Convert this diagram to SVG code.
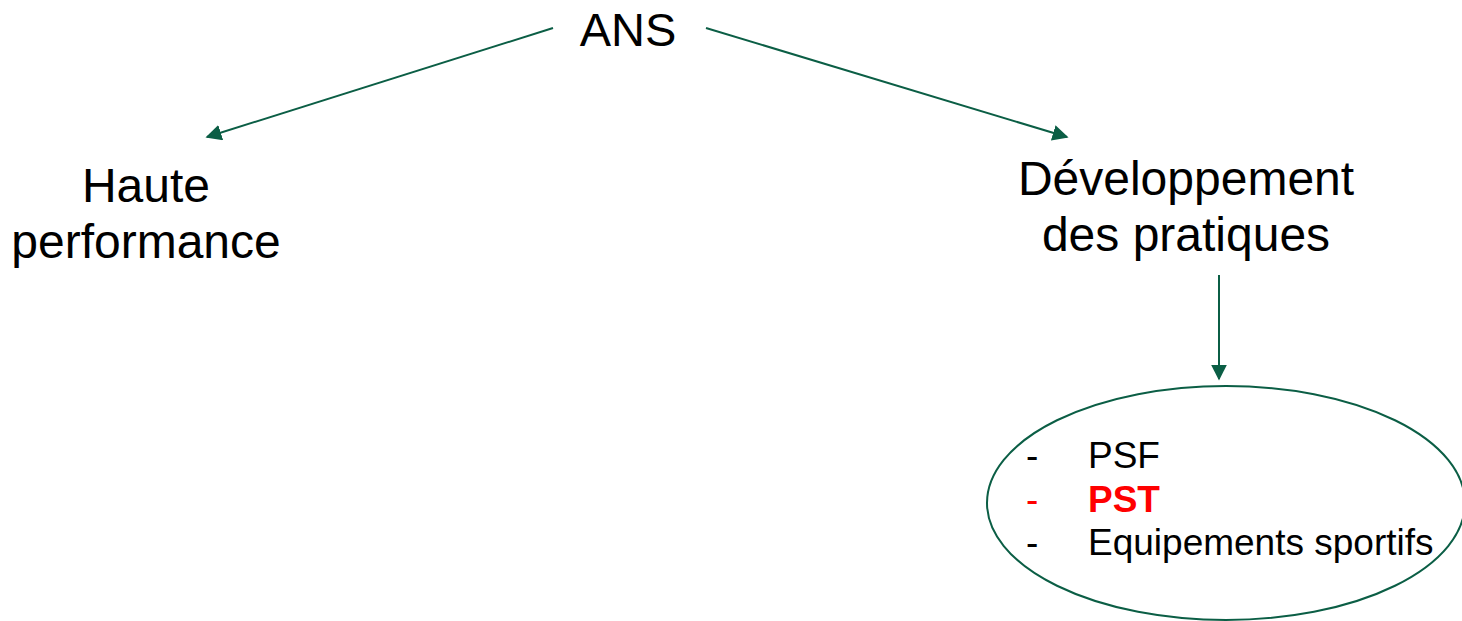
<svg xmlns="http://www.w3.org/2000/svg" width="1462" height="621" viewBox="0 0 1462 621">
<style>
text{font-family:"Liberation Sans",Arial,sans-serif;fill:#000}
.big{font-size:48px}
.ans{font-size:47px}
.item{font-size:37px}
.conn{stroke:#0B5E45;stroke-width:2;fill:none}
.red{fill:#FF0000}
</style>
<defs>
<marker id="ah2" viewBox="0 0 10 10" refX="9" refY="5" markerWidth="16" markerHeight="16" markerUnits="userSpaceOnUse" orient="auto"><path d="M0,0 L10,5 L0,10 z" fill="#0B5E45"/></marker>
</defs>
<rect width="1462" height="621" fill="#fff"/>
<g id="connectors">
<line class="conn" x1="553" y1="28" x2="207" y2="137" marker-end="url(#ah2)"/>
<line class="conn" x1="706" y1="28" x2="1067" y2="137" marker-end="url(#ah2)"/>
<line class="conn" x1="1219" y1="275" x2="1219" y2="379" marker-end="url(#ah2)"/>
</g>
<g id="ans"><text class="ans" x="628" y="46" text-anchor="middle">ANS</text></g>
<g id="haute"><text class="big" text-anchor="middle"><tspan x="146" y="202">Haute</tspan><tspan x="146" y="258">performance</tspan></text></g>
<g id="dev"><text class="big" text-anchor="middle"><tspan x="1186" y="195">Développement</tspan><tspan x="1186" y="251">des pratiques</tspan></text></g>
<g id="list">
<ellipse cx="1226" cy="503" rx="239" ry="117" fill="none" stroke="#0B5E45" stroke-width="2"/>
<text class="item" x="1026" y="468">-</text><text class="item" x="1088" y="468">PSF</text>
<text class="item red" x="1026" y="512">-</text><text class="item red" x="1088" y="512" font-weight="bold">PST</text>
<text class="item" x="1026" y="555">-</text><text class="item" x="1088" y="555">Equipements sportifs</text>
</g>
</svg>
